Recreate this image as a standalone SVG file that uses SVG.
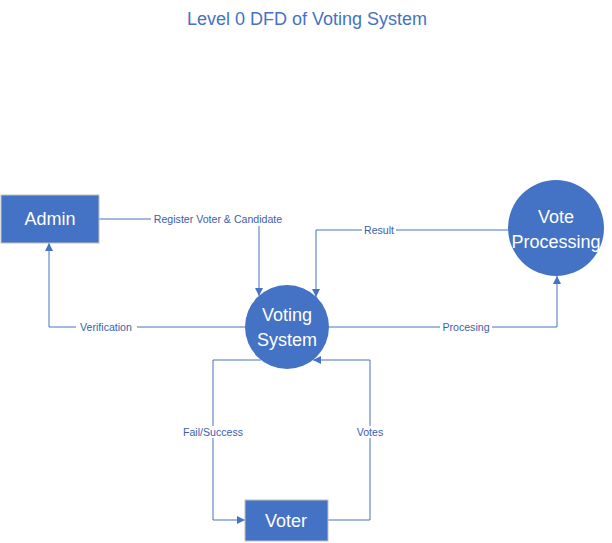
<svg xmlns="http://www.w3.org/2000/svg" width="612" height="543" viewBox="0 0 612 543">
<defs>
<marker id="arr" viewBox="0 0 10 10" refX="10" refY="5" markerWidth="8" markerHeight="8" markerUnits="userSpaceOnUse" orient="auto">
<path d="M0,0 L10,5 L0,10 Z" fill="#4472C4"/>
</marker>
<style>
.node{fill:#4472C4}
.box{fill:#4472C4;stroke:#BFBFBF;stroke-width:1}
.nt{font-family:"Liberation Sans",Arial,sans-serif;font-size:18px;fill:#FFFFFF;text-anchor:middle}
.ln{fill:none;stroke:#4472C4;stroke-width:1}
.lb{font-family:"Liberation Sans",Arial,sans-serif;font-size:10.6px;fill:#3B5EAD;text-anchor:middle}
.bg{fill:#FFFFFF}
</style>
</defs>
<rect width="612" height="543" fill="#FFFFFF"/>
<text x="307" y="25" font-family="'Liberation Sans',Arial,sans-serif" font-size="18" fill="#4472C4" text-anchor="middle">Level 0 DFD of Voting System</text>
<g id="connectors">
<path class="ln" d="M99,219 H259 V296" marker-end="url(#arr)"/>
<path class="ln" d="M509,230 H316 V297" marker-end="url(#arr)"/>
<path class="ln" d="M245,327 H49 V243" marker-end="url(#arr)"/>
<path class="ln" d="M329,327 H557 V276" marker-end="url(#arr)"/>
<path class="ln" d="M261,360 H213 V520 H245" marker-end="url(#arr)"/>
<path class="ln" d="M328,520 H370 V360 H313" marker-end="url(#arr)"/>
<rect class="bg" x="151" y="212" width="134" height="14"/>
<text class="lb" x="218" y="223">Register Voter &amp; Candidate</text>
<rect class="bg" x="362" y="224" width="34" height="12"/>
<text class="lb" x="379" y="234">Result</text>
<rect class="bg" x="76" y="321" width="61" height="12"/>
<text class="lb" x="106" y="331">Verification</text>
<rect class="bg" x="440" y="321" width="52" height="12"/>
<text class="lb" x="466" y="331">Procesing</text>
<rect class="bg" x="180" y="426" width="66" height="12"/>
<text class="lb" x="213" y="436">Fail/Success</text>
<rect class="bg" x="354" y="426" width="32" height="12"/>
<text class="lb" x="370" y="436">Votes</text>
</g>
<g id="admin">
<rect class="box" x="1" y="195" width="98" height="48"/>
<text class="nt" x="50" y="225">Admin</text>
</g>
<g id="voting-system">
<circle class="node" cx="287" cy="327" r="42"/>
<text class="nt" x="287" y="321">Voting</text>
<text class="nt" x="287" y="346">System</text>
</g>
<g id="vote-processing">
<circle class="node" cx="556" cy="228" r="48"/>
<text class="nt" x="556" y="223">Vote</text>
<text class="nt" x="556" y="248">Processing</text>
</g>
<g id="voter">
<rect class="box" x="245" y="500" width="83" height="41"/>
<text class="nt" x="286" y="527">Voter</text>
</g>
</svg>
